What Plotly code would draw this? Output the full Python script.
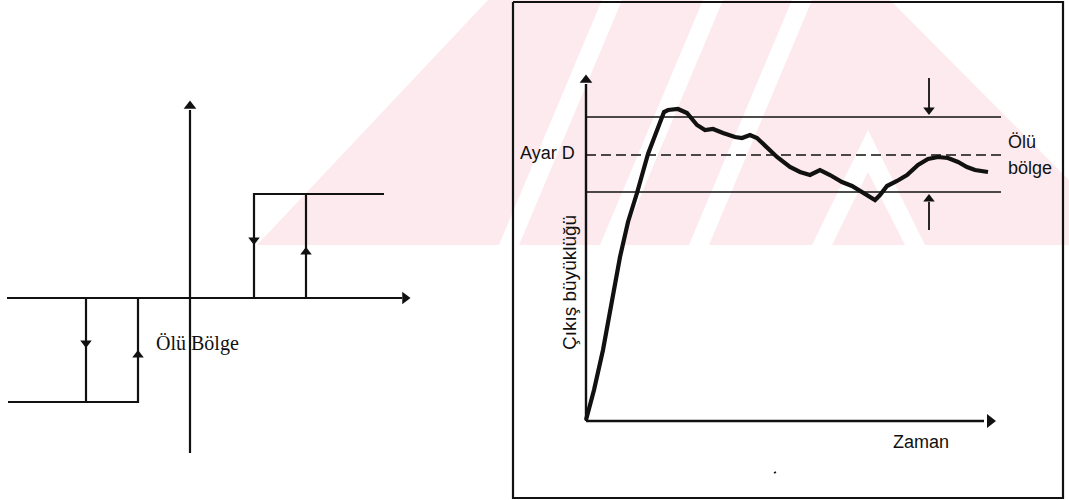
import plotly.graph_objects as go

W, H = 1069, 500
INK = "#111111"
PINK = "rgb(253,234,238)"

# ---------------- left diagram (dead-band relay) ----------------
left_haxis_x = [7, 402]
left_haxis_y = [298, 298]
left_vaxis_x = [190, 190]
left_vaxis_y = [453, 110]

upper_loop_x = [254, 254, 384]
upper_loop_y = [298, 194, 194]
upper_rise_x = [306, 306]
upper_rise_y = [298, 194]

lower_loop_x = [8, 138, 138]
lower_loop_y = [402, 402, 298]
lower_fall_x = [86, 86]
lower_fall_y = [298, 402]

down_arrow_x = [254, 86]
down_arrow_y = [240, 343]
up_arrow_x = [306, 138]
up_arrow_y = [252, 355]

# ---------------- right diagram (output vs time) ----------------
frame_x = [513, 1063, 1063, 513, 513]
frame_y = [2, 2, 498, 498, 2]

yaxis_x = [586, 586]
yaxis_y = [421, 84]
xaxis_x = [586, 984]
xaxis_y = [421, 421]

band_x = [586, 1001]
band_upper = 117
band_set = 155
band_lower = 192

marker_x = 929
top_arrow_y = [78, 108]
bot_arrow_y = [230, 202]

curve_x = [586, 594, 603, 611, 620, 628, 637, 648, 655, 660, 664, 668, 678, 687,
           697, 705, 713, 723, 735, 742, 750, 757, 767, 777, 790, 800, 810, 820,
           830, 842, 852, 862, 870, 875, 880, 887, 897, 907, 918, 928, 938, 948,
           958, 967, 975, 988]
curve_y = [420, 390, 350, 305, 257, 222, 193, 154, 135, 120, 112, 110, 109, 113,
           125, 130, 129, 133, 137, 138, 135, 138, 147, 157, 167, 172, 175, 170,
           175, 182, 186, 192, 198, 200, 195, 186, 181, 175, 165, 159, 157, 158,
           162, 167, 170, 172]

# faint background watermark (pink field with white diagonal bands)
wm_polys = [
    [(257, 245), (488, 0), (1069, 0), (1069, 245)],
]
wm_white = [
    [(499, 245), (602, 0), (622, 0), (519, 245)],
    [(600, 245), (703, 0), (723, 0), (620, 245)],
    [(689, 245), (792, 0), (812, 0), (709, 245)],
    [(812, 245), (868, 130), (925, 245), (905, 245), (868, 172), (832, 245)],
    [(890, 0), (1069, 0), (1069, 180)],
]

fig = go.Figure()


def line(x, y, width=2.0, dash="solid", color=INK):
    fig.add_trace(go.Scatter(x=x, y=y, mode="lines",
                             line=dict(color=color, width=width, dash=dash),
                             hoverinfo="skip", showlegend=False))


def arrows(x, y, symbol, size=10):
    fig.add_trace(go.Scatter(x=x, y=y, mode="markers",
                             marker=dict(symbol=symbol, size=size, color=INK,
                                         line=dict(width=0)),
                             hoverinfo="skip", showlegend=False))


# left diagram
line(left_haxis_x, left_haxis_y, 2.2)
line(left_vaxis_x, left_vaxis_y, 2.2)
arrows([405], [298], "triangle-right", 11)
arrows([190], [106], "triangle-up", 11)
line(upper_loop_x, upper_loop_y, 2.2)
line(upper_rise_x, upper_rise_y, 2.2)
line(lower_loop_x, lower_loop_y, 2.2)
line(lower_fall_x, lower_fall_y, 2.2)
arrows(down_arrow_x, down_arrow_y, "triangle-down", 10)
arrows(up_arrow_x, up_arrow_y, "triangle-up", 10)

# right diagram
line(frame_x, frame_y, 2.2)
line(yaxis_x, yaxis_y, 2.4)
line(xaxis_x, xaxis_y, 2.4)
arrows([586], [80], "triangle-up", 11)
arrows([990], [421], "triangle-right", 12)
line(band_x, [band_upper] * 2, 1.5)
line(band_x, [band_set] * 2, 1.6, dash="10px,5px")
line(band_x, [band_lower] * 2, 1.5)
line([marker_x] * 2, top_arrow_y, 1.8)
arrows([marker_x], [110], "triangle-down", 10)
line([marker_x] * 2, bot_arrow_y, 1.8)
arrows([marker_x], [199], "triangle-up", 10)
line(curve_x, curve_y, 4.2)
line([774, 776], [473, 472], 1.5)

shapes = []
for poly in wm_polys:
    p = "M " + " L ".join(f"{a},{b}" for a, b in poly) + " Z"
    shapes.append(dict(type="path", path=p, xref="x", yref="y", fillcolor=PINK,
                       line=dict(width=0), layer="below"))
for poly in wm_white:
    p = "M " + " L ".join(f"{a},{b}" for a, b in poly) + " Z"
    shapes.append(dict(type="path", path=p, xref="x", yref="y", fillcolor="white",
                       line=dict(width=0), layer="below"))

sans = "Liberation Sans, Arial, sans-serif"
serif = "Liberation Serif, Times New Roman, serif"
annotations = [
    dict(x=197, y=343, text="Ölü Bölge", font=dict(family=serif, size=20, color=INK)),
    dict(x=577, y=153, text="Ayar D", xanchor="right", font=dict(family=sans, size=18, color=INK)),
    dict(x=1006, y=142, text="Ölü", xanchor="left", font=dict(family=sans, size=18, color=INK)),
    dict(x=1006, y=168, text="bölge", xanchor="left", font=dict(family=sans, size=18, color=INK)),
    dict(x=921, y=442, text="Zaman", font=dict(family=sans, size=18, color=INK)),
    dict(x=569, y=283, text="Çıkış büyüklüğü", textangle=-90, font=dict(family=sans, size=19, color=INK)),
]
for a in annotations:
    a.update(xref="x", yref="y", showarrow=False)
    a.setdefault("xanchor", "center")
    a.setdefault("yanchor", "middle")

fig.update_layout(
    width=W, height=H, autosize=False,
    margin=dict(l=0, r=0, t=0, b=0, pad=0),
    paper_bgcolor="white", plot_bgcolor="white",
    xaxis=dict(range=[0, W], visible=False, fixedrange=True),
    yaxis=dict(range=[H, 0], visible=False, fixedrange=True),
    shapes=shapes, annotations=annotations, showlegend=False,
)

fig.write_html("out.html", config={"displayModeBar": False, "staticPlot": True},
               post_script="document.body.style.margin='0';document.body.style.overflow='hidden';")
